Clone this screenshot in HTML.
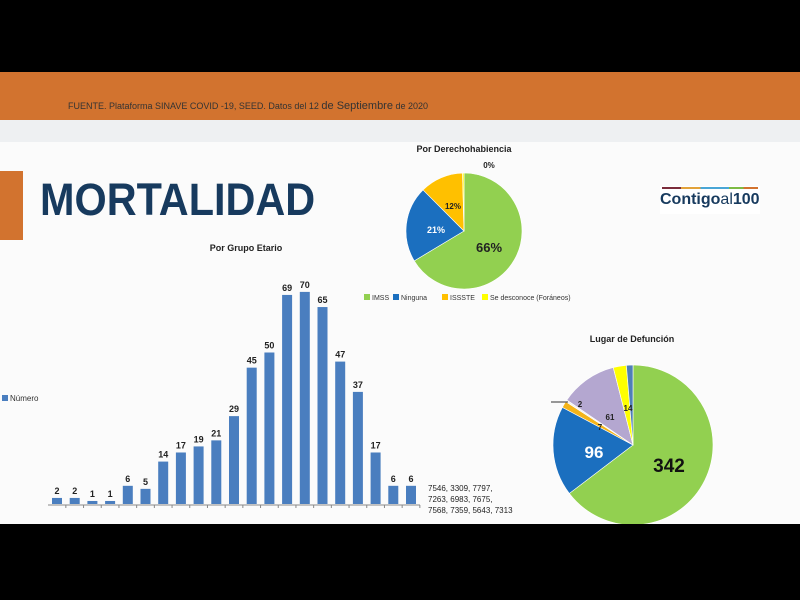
<!DOCTYPE html>
<html><head><meta charset="utf-8">
<style>
body{margin:0;width:800px;height:600px;background:#000;position:relative;overflow:hidden;font-family:"Liberation Sans",sans-serif}
.abs{position:absolute}
</style></head><body>
<div class="abs" style="left:0;top:72px;width:800px;height:48px;background:#d2732f"></div>
<div class="abs" style="left:68px;top:100px;font-size:9px;color:#333;white-space:nowrap">FUENTE. Plataforma SINAVE COVID -19, SEED. Datos del 12 <span style="font-size:11px">de Septiembre</span> de 2020</div>
<div class="abs" style="left:0;top:120px;width:800px;height:22px;background:#eef0f2"></div>
<div class="abs" style="left:0;top:142px;width:800px;height:382px;background:#fbfbfb"></div>
<div class="abs" style="left:0;top:171px;width:23px;height:69px;background:#d2732f"></div>
<div class="abs" style="left:40px;top:174px;font-size:45px;font-weight:bold;color:#173a5e;transform:scaleX(0.92);transform-origin:left;white-space:nowrap">MORTALIDAD</div>
<div class="abs" style="left:660px;top:186px;width:100px;height:28px;background:#fff"></div>
<div class="abs" style="left:660px;top:191px;font-size:16px;font-weight:bold;color:#173a5e">Contigo<span style="font-weight:normal">al</span>100</div>
<div class="abs" style="left:662px;top:187px;width:96px;height:2px;background:linear-gradient(90deg,#7b2c3b 20%,#e2a23a 20% 40%,#49a6d6 40% 70%,#7dbb44 70% 85%,#d2732f 85%)"></div>
<svg class="abs" style="left:0;top:0" width="800" height="600" id="s">
<text x="246" y="251" font-size="9" font-weight="bold" text-anchor="middle" fill="#222">Por Grupo Etario</text>
<text x="464" y="152" font-size="9" font-weight="bold" text-anchor="middle" fill="#222">Por Derechohabiencia</text>
<text x="489" y="168" font-size="8" font-weight="bold" text-anchor="middle" fill="#222">0%</text>
<text x="632" y="342" font-size="9" font-weight="bold" text-anchor="middle" fill="#222">Lugar de Defunción</text>
<rect x="2" y="395" width="6" height="6" fill="#4a7ebf"/><text x="10" y="401" font-size="8" fill="#333">Número</text>
<line x1="48" y1="505" x2="420" y2="505" stroke="#888" stroke-width="1"/>
<text x="428" y="491" font-size="8" fill="#222">7546, 3309, 7797,</text>
<text x="428" y="502" font-size="8" fill="#222">7263, 6983, 7675,</text>
<text x="428" y="513" font-size="8" fill="#222">7568, 7359, 5643, 7313</text>
</svg>
<div class="abs" style="left:0;top:524px;width:800px;height:76px;background:#000"></div>
<script>
var s=document.getElementById('s'),ns='http://www.w3.org/2000/svg';
function el(t,a,txt){var e=document.createElementNS(ns,t);for(var k in a)e.setAttribute(k,a[k]);if(txt!=null)e.textContent=txt;s.appendChild(e);return e;}
var v=[2,2,1,1,6,5,14,17,19,21,29,45,50,69,70,65,47,37,17,6,6];
var lb=['1a','4a','9a','14','19','24','29','34','39','44','49','54','59','64','69','74','79','84','89','94','99'];
for(var i=0;i<v.length;i++){var cx=57+i*17.7,h=v[i]*3.03;
el('rect',{x:cx-5,y:504-h,width:10,height:h,fill:'#4a7ebf'});
el('text',{x:cx,y:500-h,'font-size':9,'font-weight':'bold','text-anchor':'middle',fill:'#222'},v[i]);
el('line',{x1:cx+8.85,y1:505,x2:cx+8.85,y2:508,stroke:'#888'});
el('text',{x:0,y:0,'font-size':7,fill:'#444','text-anchor':'end',transform:'translate('+(cx+2.5)+',524) rotate(-90)'},lb[i]);}
function pie(cx,cy,r,vals,cols){var tot=vals.reduce(function(a,b){return a+b},0),a=0;
vals.forEach(function(x,i){var b=a+x/tot*2*Math.PI;
var p='M'+cx+','+cy+'L'+(cx+r*Math.sin(a))+','+(cy-r*Math.cos(a))+'A'+r+','+r+' 0 '+(b-a>Math.PI?1:0)+' 1 '+(cx+r*Math.sin(b))+','+(cy-r*Math.cos(b))+'Z';
el('path',{d:p,fill:cols[i],stroke:'#fff','stroke-width':0.6});a=b;});}
pie(464,231,58,[66,21,12,0.4],['#92d050','#1b6fbf','#ffc000','#ffff00']);
pie(633,445,80,[342,96,7,2,61,14,7],['#92d050','#1b6fbf','#f4b41a','#f0f0f0','#b4a7d0','#ffff00','#4f7fb8']);
el('text',{x:489,y:252,'font-size':13,'font-weight':'bold','text-anchor':'middle',fill:'#222'},'66%');
el('text',{x:436,y:233,'font-size':9,'font-weight':'bold','text-anchor':'middle',fill:'#fff'},'21%');
el('text',{x:453,y:209,'font-size':8,'font-weight':'bold','text-anchor':'middle',fill:'#222'},'12%');
el('text',{x:669,y:472,'font-size':19,'font-weight':'bold','text-anchor':'middle',fill:'#111'},'342');
el('text',{x:594,y:458,'font-size':17,'font-weight':'bold','text-anchor':'middle',fill:'#fff'},'96');
el('text',{x:610,y:420,'font-size':8,'font-weight':'bold','text-anchor':'middle',fill:'#222'},'61');
el('text',{x:580,y:407,'font-size':8,'font-weight':'bold','text-anchor':'middle',fill:'#222'},'2');
el('text',{x:600,y:430,'font-size':8,'font-weight':'bold','text-anchor':'middle',fill:'#222'},'7');
el('text',{x:628,y:411,'font-size':8,'font-weight':'bold','text-anchor':'middle',fill:'#222'},'14');
el('line',{x1:551,y1:402,x2:568,y2:402,stroke:'#333'});
var lg=[['IMSS','#92d050',372],['Ninguna','#1b6fbf',401],['ISSSTE','#ffc000',450],['Se desconoce (Foráneos)','#ffff00',490]];
lg.forEach(function(l){el('rect',{x:l[2]-8,y:294,width:6,height:6,fill:l[1]});el('text',{x:l[2],y:300,'font-size':7,fill:'#333'},l[0]);});
</script>
</body></html>
